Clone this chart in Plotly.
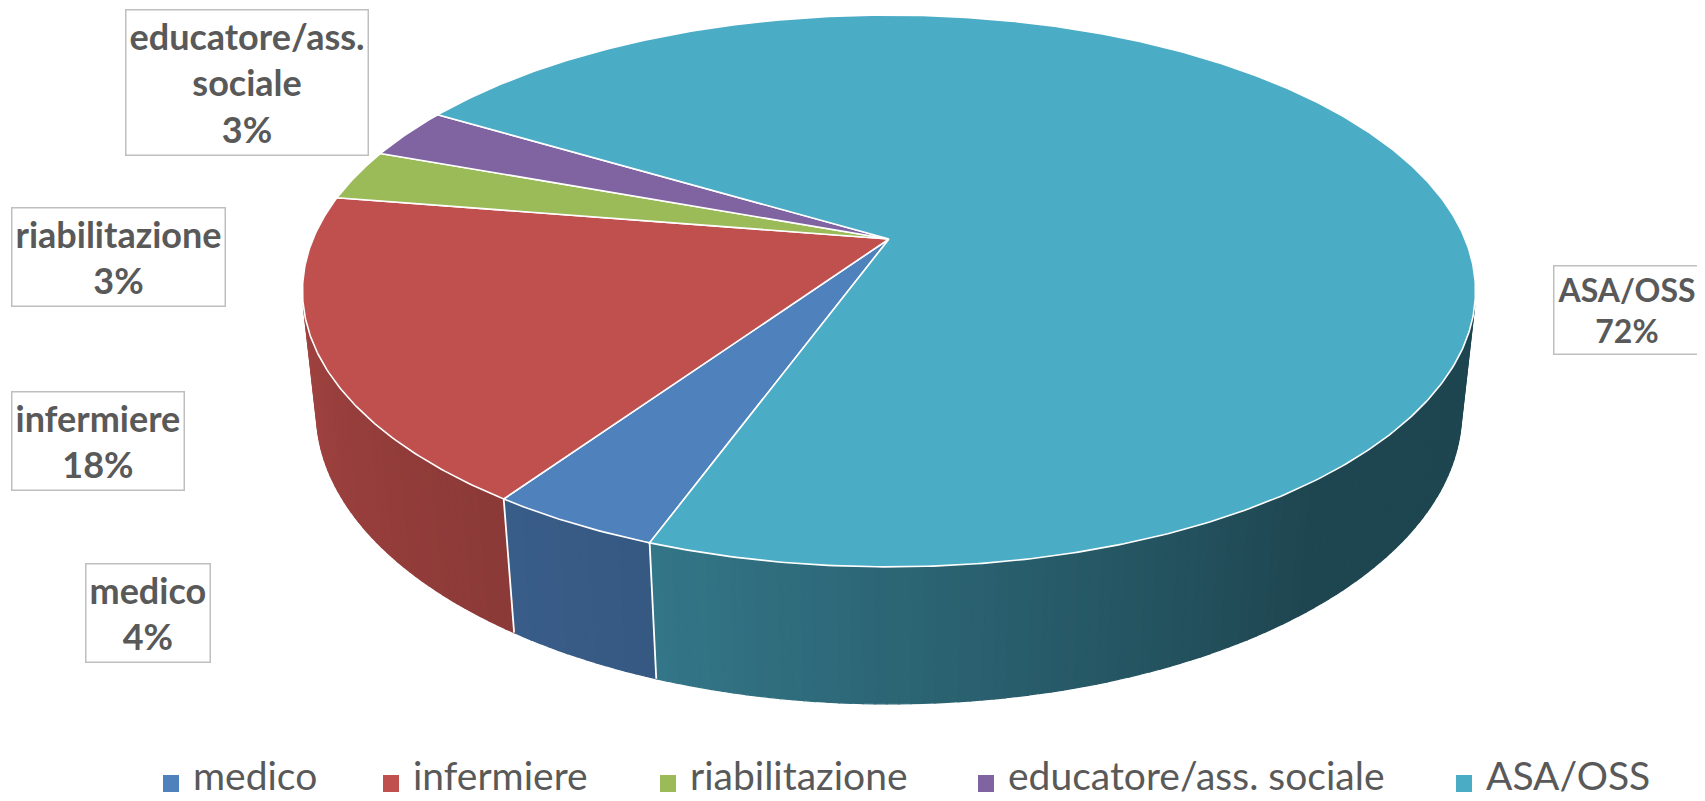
import numpy as np
import plotly.graph_objects as go

# ---------------- data ----------------
categories = ["medico", "infermiere", "riabilitazione", "educatore/ass. sociale", "ASA/OSS"]
values = [4.0, 18.0, 3.0, 3.0, 72.0]
label_names = ["medico", "infermiere", "riabilitazione", "educatore/ass.<br>sociale", "ASA/OSS"]

# ---------------- style ----------------
top_colors = ["#4F81BD", "#C0504D", "#9BBB59", "#8064A2", "#4BACC6"]
TEXT_COLOR = "#595959"
W, H = 1705, 801
OFF = 8  # default page (body) margin of the html page

# 3D-pie projection parameters (pixel space)
CX, CY = 889.0, 239.0      # pie centre on screen
F = 2713.0                 # focal scale
SIN_E, COS_E = 0.462, 0.887  # elevation
DIST = 4.71                # camera distance (radius units)
THICK = 0.239              # pie thickness (radius units)
START = 200.0              # angle of first slice (deg, clockwise from far point)

# label box centres, sizes and legend positions (layout)
label_pos = [(148, 613), (98, 441), (118, 257), (247, 82), (1626, 310)]
label_size = [36, 36, 36, 36, 32]
legend_x = [163, 383, 660, 978, 1456]


def project(a_deg, z):
    a = np.radians(np.asarray(a_deg, dtype=float))
    X = np.sin(a)
    Y = np.cos(a)
    depth = DIST + Y * COS_E - z * SIN_E
    sx = CX + F * X / depth
    sy = CY - F * (Y * SIN_E + z * COS_E) / depth
    return sx, sy


def hex_to_rgb(h):
    h = h.lstrip("#")
    return np.array([int(h[i:i + 2], 16) for i in (0, 2, 4)], dtype=float)


def shade(a):
    a = a % 360
    return float(np.interp(a, [100, 141, 200, 270], [0.41, 0.41, 0.69, 0.87]))


total = sum(values)
spans = [360.0 * v / total for v in values]
starts = [START + sum(spans[:i]) for i in range(len(values))]
ends = [s + sp for s, sp in zip(starts, spans)]

# visible part of the outer wall
lim = np.degrees(np.arccos(-1.0 / (DIST * COS_E)))
vis_lo, vis_hi = sorted([360 - lim, lim])

fig = go.Figure()

# ---- side walls (gradient strips) ----
for i in range(len(values)):
    base = hex_to_rgb(top_colors[i])
    for k in (-360.0, 0.0, 360.0):
        u = max(starts[i] + k, vis_lo)
        v = min(ends[i] + k, vis_hi)
        if v <= u:
            continue
        n = int(np.ceil((v - u) / 1.0))
        edges = np.linspace(u, v, n + 1)
        for t0, t1 in zip(edges[:-1], edges[1:]):
            angs = np.linspace(t0, t1, 3)
            tx, ty = project(angs, 0.0)
            bx, by = project(angs[::-1], -THICK)
            xs = np.concatenate([tx, bx, tx[:1]])
            ys = np.concatenate([ty, by, ty[:1]])
            c = np.clip(base * shade((t0 + t1) / 2), 0, 255).astype(int)
            col = f"rgb({c[0]},{c[1]},{c[2]})"
            fig.add_trace(go.Scatter(x=xs, y=ys, mode="lines", fill="toself",
                                     fillcolor=col, line=dict(color=col, width=1.3),
                                     hoverinfo="skip", showlegend=False))

# white separators on the wall
for b in starts:
    for k in (-360.0, 0.0, 360.0):
        bb = b + k
        if vis_lo < bb < vis_hi:
            x0, y0 = project(bb, 0.0)
            x1, y1 = project(bb, -THICK)
            fig.add_trace(go.Scatter(x=[x0, x1], y=[y0, y1], mode="lines",
                                     line=dict(color="white", width=1.8),
                                     hoverinfo="skip", showlegend=False))

# ---- top face ----
for i in range(len(values)):
    n = max(int(spans[i] * 2), 3)
    angs = np.linspace(starts[i], ends[i], n)
    ax, ay = project(angs, 0.0)
    xs = np.concatenate([[CX], ax, [CX]])
    ys = np.concatenate([[CY], ay, [CY]])
    fig.add_trace(go.Scatter(x=xs, y=ys, mode="lines", fill="toself",
                             fillcolor=top_colors[i], line=dict(color="white", width=1.6),
                             hoverinfo="skip", showlegend=False, name=categories[i]))

# ---- data labels ----
annotations = []
for i in range(len(values)):
    pct = round(values[i] / total * 100)
    annotations.append(dict(
        x=label_pos[i][0], y=label_pos[i][1], xref="x", yref="y",
        text=f"{label_names[i]}<br>{pct}%", showarrow=False,
        xanchor="center", yanchor="middle", align="center",
        font=dict(family="Lato", size=label_size[i], color=TEXT_COLOR, weight="bold"),
        bgcolor="white", bordercolor="#BFBFBF", borderwidth=1.5, borderpad=3))

# ---- legend (manual) ----
shapes = []
for i in range(len(values)):
    lx = legend_x[i]
    shapes.append(dict(type="rect", xref="x", yref="y", x0=lx, x1=lx + 16,
                       y0=775, y1=792, fillcolor=top_colors[i], line=dict(width=0)))
    annotations.append(dict(
        x=lx + 28, y=775, xref="x", yref="y", text=categories[i], showarrow=False,
        xanchor="left", yanchor="middle",
        font=dict(family="Lato", size=39, color=TEXT_COLOR)))

fig.update_layout(
    width=W - OFF, height=H - OFF, autosize=False,
    margin=dict(l=0, r=0, t=0, b=0, pad=0),
    paper_bgcolor="white", plot_bgcolor="white",
    xaxis=dict(range=[OFF, W], visible=False, fixedrange=True),
    yaxis=dict(range=[H, OFF], visible=False, fixedrange=True),
    annotations=annotations, shapes=shapes, showlegend=False,
)

fig.write_html("out.html")
